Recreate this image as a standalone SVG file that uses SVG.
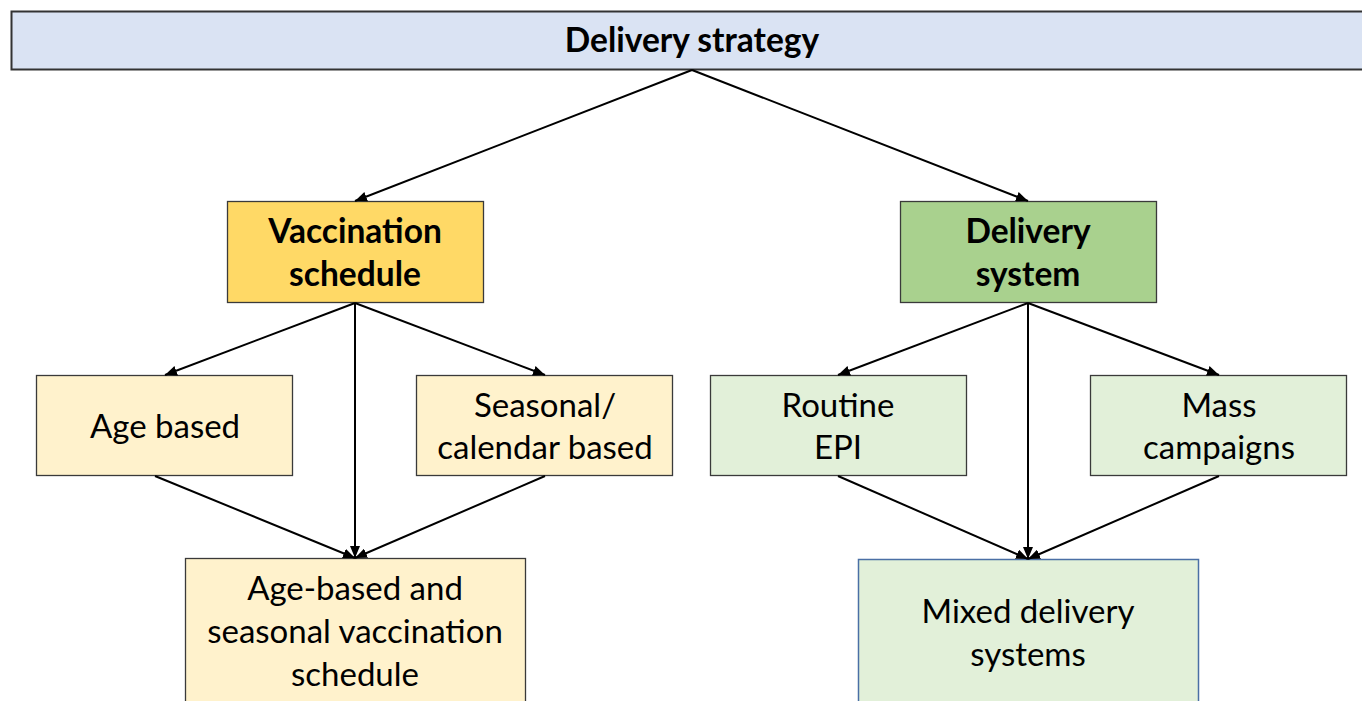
<svg xmlns="http://www.w3.org/2000/svg" width="1362" height="701" viewBox="0 0 1362 701">
<defs>
<marker id="ah" viewBox="0 0 12 10" refX="12" refY="5" markerWidth="12" markerHeight="10" markerUnits="userSpaceOnUse" orient="auto">
<path d="M0,0 L12,5 L0,10 Z" fill="#000"/>
</marker>
<style>
text{font-family:Lato,"Open Sans","Liberation Sans",sans-serif;font-size:33px;fill:#000;text-anchor:middle}
.b{font-weight:bold;font-size:33.5px}
.box{stroke:#3a3a3a;stroke-width:1.3}
.conn line{stroke:#000;stroke-width:2;marker-end:url(#ah)}
</style>
</defs>
<rect width="1362" height="701" fill="#fff"/>
<g id="delivery-strategy">
<rect x="11.5" y="11.5" width="1360" height="58" fill="#DAE3F3" stroke="#333" stroke-width="2"/>
<text class="b" x="692" y="52">Delivery strategy</text>
</g>
<g id="vaccination-schedule">
<rect class="box" x="227.5" y="201.5" width="256" height="101" fill="#FFD966"/>
<text class="b" x="355" y="243">Vaccination</text>
<text class="b" x="355" y="286">schedule</text>
</g>
<g id="delivery-system">
<rect class="box" x="900.5" y="201.5" width="256" height="101" fill="#A9D18E"/>
<text class="b" x="1028" y="243">Delivery</text>
<text class="b" x="1028" y="286">system</text>
</g>
<g id="age-based">
<rect class="box" x="36.5" y="375.5" width="256" height="100" fill="#FFF2CC"/>
<text x="165" y="438">Age based</text>
</g>
<g id="seasonal">
<rect class="box" x="416.5" y="375.5" width="256" height="100" fill="#FFF2CC"/>
<text x="545" y="417">Seasonal/</text>
<text x="545" y="459">calendar based</text>
</g>
<g id="routine-epi">
<rect class="box" x="710.5" y="375.5" width="256" height="100" fill="#E2F0D9"/>
<text x="838" y="417">Routine</text>
<text x="838" y="459">EPI</text>
</g>
<g id="mass-campaigns">
<rect class="box" x="1090.5" y="375.5" width="256" height="100" fill="#E2F0D9"/>
<text x="1219" y="417">Mass</text>
<text x="1219" y="459">campaigns</text>
</g>
<g id="age-seasonal">
<rect class="box" x="185.5" y="558.5" width="340" height="150" fill="#FFF2CC"/>
<text x="355" y="600">Age-based and</text>
<text x="355" y="643">seasonal vaccination</text>
<text x="355" y="686">schedule</text>
</g>
<g id="mixed-delivery">
<rect x="858.5" y="559.5" width="340" height="150" fill="#E2F0D9" stroke="#4A6FA5" stroke-width="1.5"/>
<text x="1028" y="623">Mixed delivery</text>
<text x="1028" y="666">systems</text>
</g>
<g class="conn" id="connectors">
<line x1="692" y1="70" x2="355" y2="201"/>
<line x1="692" y1="70" x2="1028" y2="201"/>
<line x1="355" y1="303" x2="165" y2="375"/>
<line x1="355" y1="303" x2="355" y2="558"/>
<line x1="355" y1="303" x2="545" y2="375"/>
<line x1="1028" y1="303" x2="838" y2="375"/>
<line x1="1028" y1="303" x2="1028" y2="559"/>
<line x1="1028" y1="303" x2="1219" y2="375"/>
<line x1="155" y1="476" x2="355" y2="558"/>
<line x1="545" y1="476" x2="355" y2="558"/>
<line x1="838" y1="476" x2="1028" y2="559"/>
<line x1="1219" y1="476" x2="1028" y2="559"/>
</g>
</svg>
